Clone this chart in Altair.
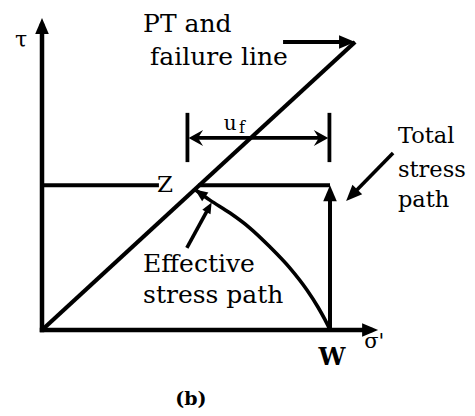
import math
import altair as alt
import pandas as pd

# ---------------- data (diagram units: sigma' to the right, tau upward) -------------
SIGMA_AXIS_END = 116.7
TAU_AXIS_END = 108.3
FAILURE_SIGMA = [0.0, 108.7]
FAILURE_TAU = [0.0, 100.0]
W_SIGMA = 100.0
Z_SIGMA = 54.3
Z_TAU = 50.3
TAU_LEVEL_LEFT = [0.0, 40.6]          # tau level line from axis up to the Z label
# effective stress path, from Z down to W
ESP_SIGMA = [53.1, 58.3, 65.3, 72.2, 79.2, 86.1, 92.0, 95.8, 98.3, 99.7, 100.0]
ESP_TAU = [48.8, 45.1, 40.6, 35.4, 28.8, 21.5, 13.9, 8.0, 3.5, 0.7, 0.0]
UF_SIGMA = [50.5, 99.8]
UF_TAU = 66.7
UF_TICK_TAU = [58.3, 75.4]
PT_ARROW = [83.7, 100.0, 108.7, 100.0]       # tail sigma, tail tau, tip sigma, tip tau
EFF_ARROW = [50.3, 28.5, 58.9, 44.3]
TSP_ARROW = [121.9, 61.5, 105.6, 44.8]

LABELS_LEFT = [("PT and", 35.1, 103.5), ("failure line", 37.5, 92.0),
               ("Effective", 35.1, 20.1), ("stress path", 35.1, 9.4)]
LABELS_TSP = [("Total", 123.6, 64.9), ("stress", 123.6, 53.1), ("path", 123.6, 42.7)]
LABEL_TAU = ("τ", -7.3, 98.3)
LABEL_SIGMA = ("σ'", 111.9, -6.3)
LABEL_Z = ("Z", 42.7, 47.9)
LABEL_W = ("W", 100.7, -12.2)
LABEL_U = ("u", 65.3, 69.4)
LABEL_F = ("f", 69.4, 68.4)
LABEL_B = ("(b)", 51.7, -26.0)

# ---------------- scales -------------
PX = 2.88  # pixels per diagram unit (same in both directions)
XS = alt.Scale(domain=[-11.806, 147.57], zero=False, nice=False)
YS = alt.Scale(domain=[-27.08, 111.81], zero=False, nice=False)
FONT = "DejaVu Serif"


def enc(**kw):
    out = dict(x=alt.X("x:Q", scale=XS, axis=None), y=alt.Y("y:Q", scale=YS, axis=None))
    if "x2" in kw:
        out["x2"] = alt.X2("x2:Q")
        out["y2"] = alt.Y2("y2:Q")
    return out


def segs(rows):
    return pd.DataFrame(rows, columns=["x", "y", "x2", "y2"])


def rule(rows, width, cap="butt"):
    return alt.Chart(segs(rows)).mark_rule(
        color="black", strokeWidth=width, strokeCap=cap
    ).encode(**enc(x2=True))


def heading(tail, tip):
    dx, dy = tip[0] - tail[0], tip[1] - tail[1]
    return math.degrees(math.atan2(dx, dy)) % 360


def shorten(tail, tip, px):
    dx, dy = tip[0] - tail[0], tip[1] - tail[1]
    d = math.hypot(dx, dy)
    k = (px / PX) / d
    return (tip[0] - dx * k, tip[1] - dy * k)


def heads(items, shape, size):
    rows = [dict(x=tip[0], y=tip[1], angle=heading(tail, tip)) for tail, tip in items]
    return alt.Chart(pd.DataFrame(rows)).mark_point(
        shape=shape, filled=True, color="black", opacity=1, size=size, strokeWidth=0
    ).encode(**enc(), angle=alt.Angle("angle:Q", scale=None))


TRI = "M0,0L0.85,2L-0.85,2Z"
STEALTH = "M0,0L1.1,2L0,1.3L-1.1,2Z"

origin = (0.0, 0.0)
x_tip = (SIGMA_AXIS_END, 0.0)
y_tip = (0.0, TAU_AXIS_END)
axes = rule([[0, 0] + list(shorten(origin, x_tip, 8)),
             [0, 0] + list(shorten(origin, y_tip, 8))], 4.5, "square")

fail = rule([[FAILURE_SIGMA[0], FAILURE_TAU[0], FAILURE_SIGMA[1], FAILURE_TAU[1]]], 4.2)

pt_tail, pt_tip = (PT_ARROW[0], PT_ARROW[1]), (PT_ARROW[2], PT_ARROW[3])
eff_tail, eff_tip = (EFF_ARROW[0], EFF_ARROW[1]), (EFF_ARROW[2], EFF_ARROW[3])
tsp_tail, tsp_tip = (TSP_ARROW[0], TSP_ARROW[1]), (TSP_ARROW[2], TSP_ARROW[3])
w_base, w_top = (W_SIGMA, 0.0), (W_SIGMA, Z_TAU)
uf_l_tip = (UF_SIGMA[0] + 0.4, UF_TAU)
uf_r_tip = (UF_SIGMA[1] - 0.4, UF_TAU)

paths = rule([
    [TAU_LEVEL_LEFT[0], Z_TAU, TAU_LEVEL_LEFT[1], Z_TAU],
    [Z_SIGMA, Z_TAU, W_SIGMA, Z_TAU],
    [w_base[0], w_base[1]] + list(shorten(w_base, w_top, 8)),
    [pt_tail[0], pt_tail[1]] + list(shorten(pt_tail, pt_tip, 8)),
], 4)

uf = rule([
    [UF_SIGMA[0], UF_TICK_TAU[0], UF_SIGMA[0], UF_TICK_TAU[1]],
    [UF_SIGMA[1], UF_TICK_TAU[0], UF_SIGMA[1], UF_TICK_TAU[1]],
    list(shorten(uf_r_tip, uf_l_tip, 8)) + list(shorten(uf_l_tip, uf_r_tip, 8)),
], 3.8)

notes = rule([
    [eff_tail[0], eff_tail[1]] + list(shorten(eff_tail, eff_tip, 5)),
    [tsp_tail[0], tsp_tail[1]] + list(shorten(tsp_tail, tsp_tip, 8)),
], 3.6)

esp_df = pd.DataFrame({"x": ESP_SIGMA, "y": ESP_TAU, "i": range(len(ESP_SIGMA))})
esp = alt.Chart(esp_df).mark_line(
    color="black", strokeWidth=3.6, interpolate="monotone"
).encode(**enc(), order="i:Q")

esp_end_tail = (ESP_SIGMA[1], ESP_TAU[1])
esp_end_tip = (ESP_SIGMA[0], ESP_TAU[0])

big_heads = heads([(origin, x_tip), (origin, y_tip), (pt_tail, pt_tip),
                   (w_base, w_top), (tsp_tail, tsp_tip)], TRI, 256)
uf_heads = heads([(uf_r_tip, uf_l_tip), (uf_l_tip, uf_r_tip)], STEALTH, 210)
small_heads = heads([(eff_tail, eff_tip)], TRI, 120)
z_head = heads([(esp_end_tail, esp_end_tip)], TRI, 160)


def text(items, size, align="left", weight="normal"):
    df = pd.DataFrame(items, columns=["t", "x", "y"])
    return alt.Chart(df).mark_text(
        font=FONT, fontSize=size, align=align, baseline="alphabetic",
        color="black", fontWeight=weight
    ).encode(**enc(), text="t:N")


texts = [
    text(LABELS_LEFT, 25),
    text(LABELS_TSP, 22.5),
    text([LABEL_TAU], 22, "center"),
    text([LABEL_SIGMA], 21),
    text([LABEL_Z], 23, "center"),
    text([LABEL_U], 20, "center"),
    text([LABEL_F], 16, "center"),
    text([LABEL_W], 24, "center", "bold"),
    text([LABEL_B], 19, "center", "bold"),
]

chart = alt.layer(
    axes, fail, paths, uf, notes, esp,
    big_heads, uf_heads, small_heads, z_head, *texts
).properties(
    width=459, height=400, padding=0,
    autosize=alt.AutoSizeParams(type="none"),
    background="white",
).configure_view(stroke=None)

chart.save("out.html", embed_options={"renderer": "svg", "actions": False})
